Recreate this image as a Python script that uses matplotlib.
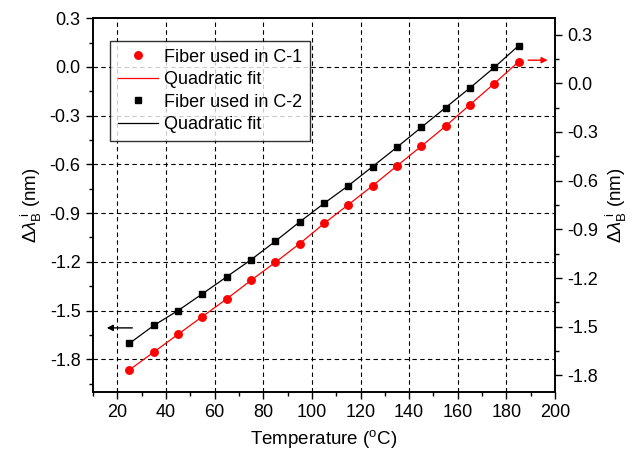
import matplotlib
matplotlib.use("Agg")
import matplotlib.pyplot as plt
from matplotlib.ticker import MultipleLocator
from matplotlib.lines import Line2D

plt.rcParams['font.family'] = ['Liberation Sans', 'DejaVu Sans']
plt.rcParams['mathtext.fontset'] = 'custom'
plt.rcParams['mathtext.rm'] = 'Liberation Sans'
plt.rcParams['mathtext.it'] = 'Liberation Sans:italic'
plt.rcParams['mathtext.bf'] = 'Liberation Sans:bold'

temperature = [25, 35, 45, 55, 65, 75, 85, 95, 105, 115, 125, 135, 145, 155, 165, 175, 185]
# Fiber used in C-2 (left axis)
c2_shift = [-1.702, -1.592, -1.500, -1.397, -1.292, -1.187, -1.073, -0.954, -0.840,
            -0.731, -0.613, -0.494, -0.372, -0.250, -0.129, -0.003, 0.131]
# Fiber used in C-1 (right axis)
c1_shift = [-1.765, -1.656, -1.546, -1.437, -1.328, -1.214, -1.103, -0.988, -0.864,
            -0.748, -0.631, -0.509, -0.388, -0.264, -0.132, -0.002, 0.132]

left_ticks = [-1.8, -1.5, -1.2, -0.9, -0.6, -0.3, 0.0, 0.3]
right_ticks = [-1.8, -1.5, -1.2, -0.9, -0.6, -0.3, 0.0, 0.3]
x_ticks = [20, 40, 60, 80, 100, 120, 140, 160, 180, 200]
legend_labels = ['Fiber used in C-1', 'Quadratic fit', 'Fiber used in C-2', 'Quadratic fit']

fig = plt.figure(figsize=(6.38, 4.57), dpi=100)
ax = fig.add_axes([0.1458, 0.1429, 0.7242, 0.8171])
ax2 = ax.twinx()

ax.set_xlim(10, 200)
ax.set_ylim(-2.0, 0.3)
ax2.set_ylim(-1.9, 0.4)

# C-2 data on left axis
ax.plot(temperature, c2_shift, color='black', lw=0.9, zorder=3)
ax.plot(temperature, c2_shift, 's', color='black', ms=4.8, zorder=4)
# C-1 data on right axis
ax2.plot(temperature, c1_shift, color='red', lw=0.9, zorder=3)
ax2.plot(temperature, c1_shift, 'o', color='red', ms=5.4, zorder=4)

# ticks and grid
ax.set_xticks(x_ticks)
ax.set_yticks(left_ticks)
ax.xaxis.set_minor_locator(MultipleLocator(10))
ax.yaxis.set_minor_locator(MultipleLocator(0.15))
ax2.set_yticks(right_ticks)
ax2.yaxis.set_minor_locator(MultipleLocator(0.15))
for v in x_ticks[:-1]:
    ax.axvline(v, color='black', ls=(0, (4, 3)), lw=0.8, zorder=1)
for v in left_ticks[:-1]:
    ax.axhline(v, color='black', ls=(0, (4, 3)), lw=0.8, zorder=1)

ax.set_yticklabels(['%.1f' % t for t in left_ticks])
ax2.set_yticklabels(['%.1f' % t for t in right_ticks])

for a in (ax, ax2):
    a.tick_params(which='major', direction='out', length=5, width=1, labelsize=13, pad=4)
    a.tick_params(which='minor', direction='out', length=3, width=1)
    for s in a.spines.values():
        s.set_linewidth(1.2)
ax.tick_params(top=False, which='both')

ax.set_xlabel(r'Temperature ($^\mathrm{o}$C)', fontsize=13.5, labelpad=5)
ax.set_ylabel(r'$\Delta\lambda_\mathrm{B}^{\;\mathrm{i}}$ (nm)', fontsize=13.5, labelpad=4)
ax2.set_ylabel(r'$\Delta\lambda_\mathrm{B}^{\;\mathrm{i}}$ (nm)', fontsize=13.5, labelpad=4)

# arrows
ax.annotate('', xy=(14.5, -1.607), xytext=(27.3, -1.607),
            arrowprops=dict(arrowstyle='-|>', color='black', lw=1, mutation_scale=9))
ax2.annotate('', xy=(198.1, 0.142), xytext=(187.8, 0.142),
             arrowprops=dict(arrowstyle='-|>', color='red', lw=1, mutation_scale=9))

# legend
handles = [Line2D([], [], marker='o', ls='none', color='red', ms=5.4),
           Line2D([], [], color='red', lw=0.9),
           Line2D([], [], marker='s', ls='none', color='black', ms=4.8),
           Line2D([], [], color='black', lw=0.9)]
leg = ax2.legend(handles, legend_labels, loc='upper left', bbox_to_anchor=(0.036, 0.94),
                 fontsize=13, frameon=True, fancybox=False, edgecolor='black',
                 handlelength=2.2, handletextpad=0.35, labelspacing=0.3,
                 borderpad=0.45, borderaxespad=0)
leg.get_frame().set_linewidth(1.0)
leg.set_zorder(10)

fig.savefig('out.png', dpi=100)
